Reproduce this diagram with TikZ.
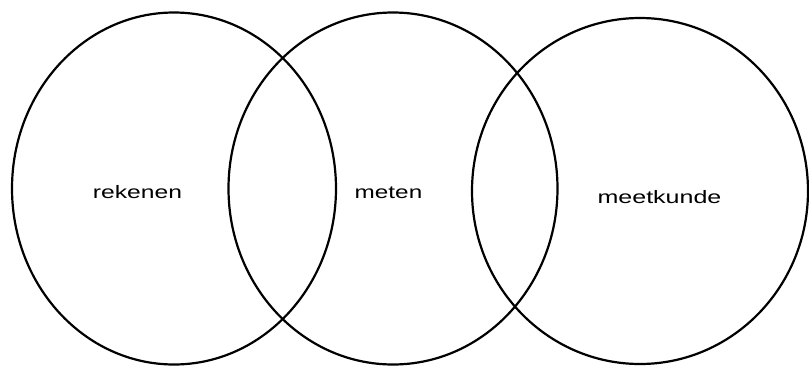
\documentclass[tikz,border=0pt]{standalone}
\usepackage{fontspec}
\setmainfont{Liberation Sans}
\begin{document}
\begin{tikzpicture}[x=1pt,y=-1pt,
  ring/.style={draw=black,line width=2.2pt},
  lbl/.style={inner sep=0pt,anchor=base,font=\fontsize{18}{20}\selectfont}]
\useasboundingbox (0,0) rectangle (809,367);
\fill[white] (0,0) rectangle (809,367);
\draw[ring] (174,188.5) ellipse [x radius=162, y radius=176];
\draw[ring] (393,188.5) ellipse [x radius=164.5, y radius=176];
\draw[ring] (640,191) ellipse [x radius=168, y radius=173];
\node[lbl] (rek) at (137.5,198) {\scalebox{1.37}[1]{rekenen}};
\node[lbl] (met) at (388.5,198) {\scalebox{1.35}[1]{meten}};
\node[lbl] (mee) at (659.5,203) {\scalebox{1.39}[1]{meetkunde}};
\end{tikzpicture}
\end{document}
